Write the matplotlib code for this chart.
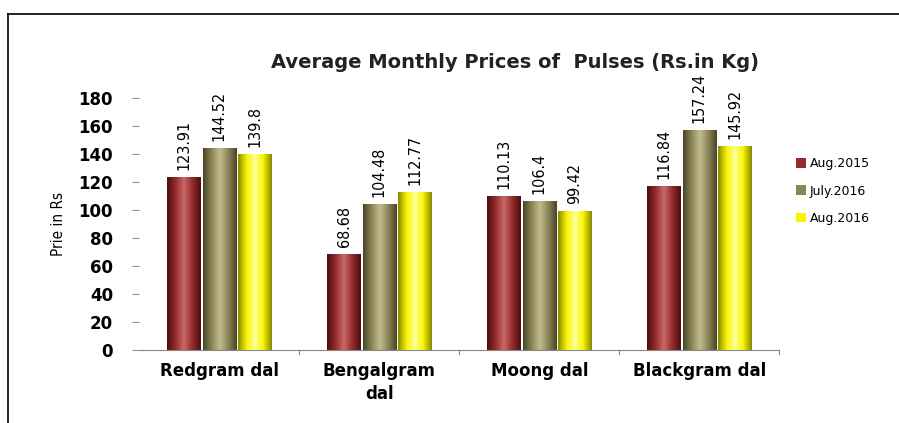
import matplotlib
matplotlib.use("Agg")
import matplotlib.pyplot as plt
import numpy as np
from matplotlib.colors import LinearSegmentedColormap
from matplotlib.patches import Rectangle
from matplotlib.lines import Line2D

categories = ["Redgram dal", "Bengalgram\ndal", "Moong dal", "Blackgram dal"]
series_names = ["Aug.2015", "July.2016", "Aug.2016"]
aug2015 = [123.91, 68.68, 110.13, 116.84]
jul2016 = [144.52, 104.48, 106.4, 157.24]
aug2016 = [139.8, 112.77, 99.42, 145.92]
value_labels = [["123.91", "68.68", "110.13", "116.84"],
                ["144.52", "104.48", "106.4", "157.24"],
                ["139.8", "112.77", "99.42", "145.92"]]
yticks = [0, 20, 40, 60, 80, 100, 120, 140, 160, 180]

colors = ["#962B2B", "#8C8558", "#F5F500"]
dark = ["#4A0E0E", "#4A452A", "#8A8A00"]
light = ["#C86A6A", "#C2BC8E", "#FFFF9A"]

fig = plt.figure(figsize=(8.99, 4.23), dpi=100)
ax = fig.add_axes([0.155, 0.173, 0.712, 0.595])

x = np.arange(len(categories))
w = 0.21
offsets = [-w - 0.01, 0, w + 0.01]
all_series = [aug2015, jul2016, aug2016]

for i, (vals, c) in enumerate(zip(all_series, colors)):
    bars = ax.bar(x + offsets[i], vals, width=w, color=c, edgecolor="none", zorder=2)
    cmap = LinearSegmentedColormap.from_list("g%d" % i, [dark[i], c, light[i], c, dark[i]])
    grad = np.linspace(0, 1, 64).reshape(1, -1)
    for b, v, lab in zip(bars, vals, value_labels[i]):
        x0, bw = b.get_x(), b.get_width()
        im = ax.imshow(grad, cmap=cmap, aspect="auto", extent=[x0, x0 + bw, 0, v],
                       zorder=3, interpolation="bicubic")
        im.set_clip_path(b)
        ax.text(x0 + bw / 2, v + 5, lab, rotation=90, ha="center", va="bottom",
                fontsize=11.5, family="DejaVu Sans", fontstretch="condensed", color="black",
                clip_on=False)

ax.set_xlim(-0.5, 3.5)
ax.set_ylim(0, 180)
ax.set_yticks(yticks)
ax.set_yticklabels([str(t) for t in yticks], fontsize=12, fontweight="bold",
                   family=["Verdana", "DejaVu Sans"])
ax.set_xticks(x)
ax.set_xticklabels(categories, fontsize=12, fontweight="bold", family=["Verdana", "DejaVu Sans"],
                   linespacing=1.35, va="top")
ax.tick_params(axis="x", length=0, pad=9)
ax.tick_params(axis="y", length=5, color="#999999", pad=14, direction="out")
for s in ["top", "right", "left"]:
    ax.spines[s].set_visible(False)
ax.spines["bottom"].set_color("#888888")
for xb in [0.5, 1.5, 2.5, 3.5]:
    ax.plot([xb, xb], [0, -3], color="#888888", lw=0.8, clip_on=False)

ax.set_ylabel("Prie in Rs", fontsize=11, family=["DejaVu Sans"], fontstretch="condensed", labelpad=2)
ax.yaxis.set_label_coords(-0.115, 0.5)

fig.text(0.573, 0.853, "Average Monthly Prices of  Pulses (Rs.in Kg)", ha="center", va="center",
         fontsize=14, fontweight="bold", family=["DejaVu Sans"], color="#222222")

handles = [Rectangle((0, 0), 1, 1, facecolor=c) for c in colors]
fig.legend(handles, series_names, loc="upper left", bbox_to_anchor=(0.873, 0.655),
           frameon=False, handlelength=0.8, handleheight=0.8,
           labelspacing=1.15, handletextpad=0.3, prop={"family": ["DejaVu Sans"], "size": 9})

# frame: top and left lines only
fig.add_artist(Line2D([8 / 899, 8 / 899], [0, 1 - 14 / 423], transform=fig.transFigure,
                      color="black", lw=1.2))
fig.add_artist(Line2D([8 / 899, 1], [1 - 14 / 423, 1 - 14 / 423], transform=fig.transFigure,
                      color="black", lw=1.2))

fig.savefig("out.png", dpi=100)
